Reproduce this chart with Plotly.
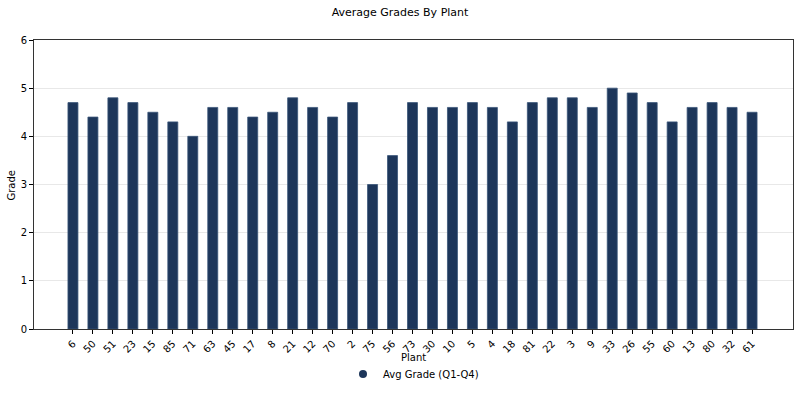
import plotly.graph_objects as go

plants = ["6","50","51","23","15","85","71","63","45","17","8","21","12","70","2","75","56","73","30","10","5","4","18","81","22","3","9","33","26","55","60","13","80","32","61"]
grades = [4.7,4.4,4.8,4.7,4.5,4.3,4.0,4.6,4.6,4.4,4.5,4.8,4.6,4.4,4.7,3.0,3.6,4.7,4.6,4.6,4.7,4.6,4.3,4.7,4.8,4.8,4.6,5.0,4.9,4.7,4.3,4.6,4.7,4.6,4.5]
series_name = "Avg Grade (Q1-Q4)"
color = "#1d365a"

fig = go.Figure()
fig.add_trace(go.Bar(x=plants, y=grades, width=0.5, marker=dict(color=color, line=dict(color="#3a5578", width=0.8)),
                     showlegend=False, name=series_name))
fig.add_trace(go.Scatter(x=[None], y=[None], mode="markers", marker=dict(color=color, size=8, symbol="circle"),
                         name=series_name, showlegend=True))

font = "DejaVu Sans"
fig.update_layout(
    width=800, height=404,
    margin=dict(l=34, r=7, t=40, b=75),
    paper_bgcolor="white", plot_bgcolor="white",
    font=dict(family=font, size=10, color="black"),
    title=dict(text="Average Grades By Plant", x=0.5, xanchor="center", y=0.97, yanchor="middle",
               font=dict(family=font, size=11, color="black")),
    legend=dict(orientation="h", x=0.5, xanchor="center", y=-0.156, yanchor="middle",
                font=dict(family=font, size=10)),
    bargap=0.5,
    annotations=[
        dict(text="Plant", xref="paper", yref="paper", x=0.5, y=-0.097, xanchor="center", yanchor="middle",
             showarrow=False, font=dict(family=font, size=10, color="black")),
        dict(text="Grade", xref="paper", yref="paper", x=-0.029, y=0.5, xanchor="center", yanchor="middle",
             textangle=-90, showarrow=False, font=dict(family=font, size=10, color="black")),
    ],
)
fig.update_xaxes(
    type="category", range=[-1.95, 36.05], automargin=False,
    tickangle=-45, ticks="outside", ticklen=4, tickcolor="black",
    showline=True, linecolor="#333333", linewidth=1, mirror=True,
    showgrid=False,
    tickfont=dict(family=font, size=10),
)
fig.update_yaxes(
    range=[0, 6], dtick=1, ticks="outside", ticklen=4, tickcolor="black", automargin=False,
    showline=True, linecolor="#333333", linewidth=1, mirror=True,
    showgrid=True, gridcolor="#e8e8e8", gridwidth=1,
    zeroline=False,
    tickfont=dict(family=font, size=10),
)
fig.write_html("out.html")
